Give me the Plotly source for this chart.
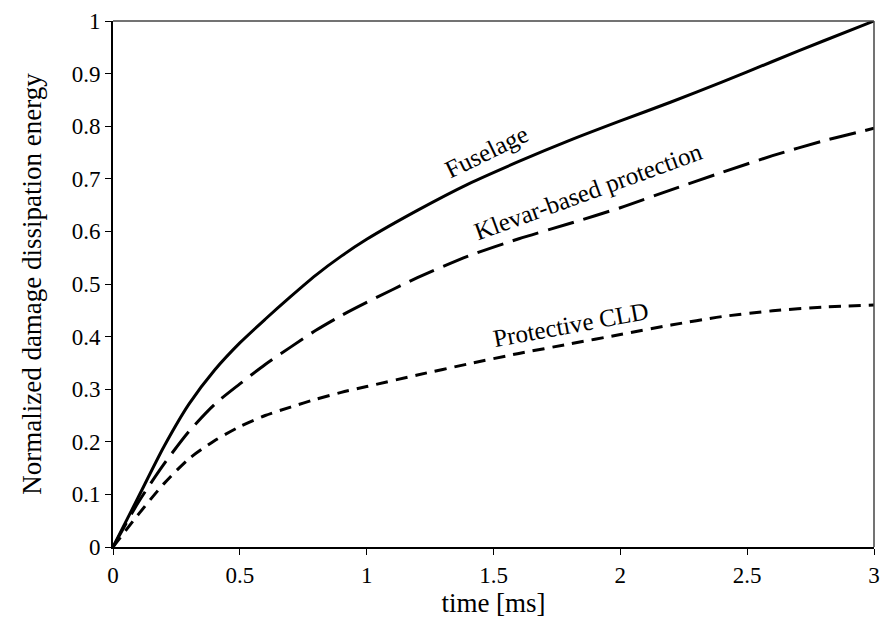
import plotly.graph_objects as go

time_ms = [0, 0.1, 0.2, 0.3, 0.4, 0.5, 0.6, 0.7, 0.8, 0.9, 1.0, 1.2, 1.4, 1.6, 1.8, 2.0, 2.2, 2.4, 2.6, 2.8, 3.0]
fuselage = [0, 0.095, 0.19, 0.272, 0.336, 0.388, 0.433, 0.476, 0.517, 0.553, 0.585, 0.64, 0.69, 0.733, 0.773, 0.81, 0.846, 0.884, 0.923, 0.962, 1.0]
klevar = [0, 0.085, 0.157, 0.22, 0.271, 0.31, 0.347, 0.38, 0.412, 0.44, 0.465, 0.512, 0.553, 0.586, 0.615, 0.645, 0.679, 0.712, 0.744, 0.772, 0.796]
cld = [0, 0.062, 0.12, 0.168, 0.202, 0.229, 0.25, 0.266, 0.281, 0.294, 0.305, 0.327, 0.348, 0.368, 0.386, 0.404, 0.422, 0.438, 0.449, 0.456, 0.46]

x_ticks = [0, 0.5, 1, 1.5, 2, 2.5, 3]
x_tick_text = ["0", "0.5", "1", "1.5", "2", "2.5", "3"]
y_ticks = [0, 0.1, 0.2, 0.3, 0.4, 0.5, 0.6, 0.7, 0.8, 0.9, 1]
y_tick_text = ["0", "0.1", "0.2", "0.3", "0.4", "0.5", "0.6", "0.7", "0.8", "0.9", "1"]

labels = ["Fuselage", "Klevar-based protection", "Protective CLD"]
label_x = [1.474, 1.873, 1.807]
label_y = [0.752, 0.675, 0.423]
label_angle = [-26, -20, -10.5]

FONT = "Liberation Serif, Times New Roman, serif"

fig = go.Figure()
fig.add_trace(go.Scatter(x=time_ms, y=fuselage, mode="lines", name=labels[0],
                         line=dict(color="black", width=3, shape="spline", smoothing=0.7)))
fig.add_trace(go.Scatter(x=time_ms, y=klevar, mode="lines", name=labels[1],
                         line=dict(color="black", width=3, dash="27px,10px", shape="spline", smoothing=0.7)))
fig.add_trace(go.Scatter(x=time_ms, y=cld, mode="lines", name=labels[2],
                         line=dict(color="black", width=3, dash="12px,8px", shape="spline", smoothing=0.7)))

for t, lx, ly, a in zip(labels, label_x, label_y, label_angle):
    fig.add_annotation(x=lx, y=ly, xref="x", yref="y", text=t, showarrow=False,
                       textangle=a, font=dict(family=FONT, size=25, color="black"))

# thinner grey frame on top and right
fig.add_shape(type="line", xref="paper", yref="paper", x0=0, x1=1, y0=1, y1=1,
              line=dict(color="#444444", width=1.5), layer="above")
fig.add_shape(type="line", xref="paper", yref="paper", x0=1, x1=1, y0=0, y1=1,
              line=dict(color="#444444", width=1.5), layer="above")

fig.update_layout(
    width=889, height=618,
    margin=dict(l=113, r=9, t=21, b=71),
    paper_bgcolor="white", plot_bgcolor="white",
    showlegend=False,
    font=dict(family=FONT, color="black"),
)
fig.update_xaxes(range=[0, 3], tickvals=x_ticks, ticktext=x_tick_text,
                 showgrid=False, zeroline=False,
                 showline=True, linecolor="black", linewidth=2, mirror=False,
                 ticks="outside", ticklen=6, tickwidth=1, tickcolor="black",
                 tickfont=dict(family=FONT, size=23, color="black"),
                 title=dict(text="time [ms]", font=dict(family=FONT, size=27, color="black"), standoff=2))
fig.update_yaxes(range=[0, 1], tickvals=y_ticks, ticktext=y_tick_text,
                 showgrid=False, zeroline=False,
                 showline=True, linecolor="black", linewidth=2, mirror=False,
                 ticks="outside", ticklen=6, tickwidth=1, tickcolor="black",
                 tickfont=dict(family=FONT, size=23, color="black"),
                 title=dict(text="Normalized damage dissipation energy", font=dict(family=FONT, size=27, color="black"), standoff=22))

fig.write_html("out.html")
